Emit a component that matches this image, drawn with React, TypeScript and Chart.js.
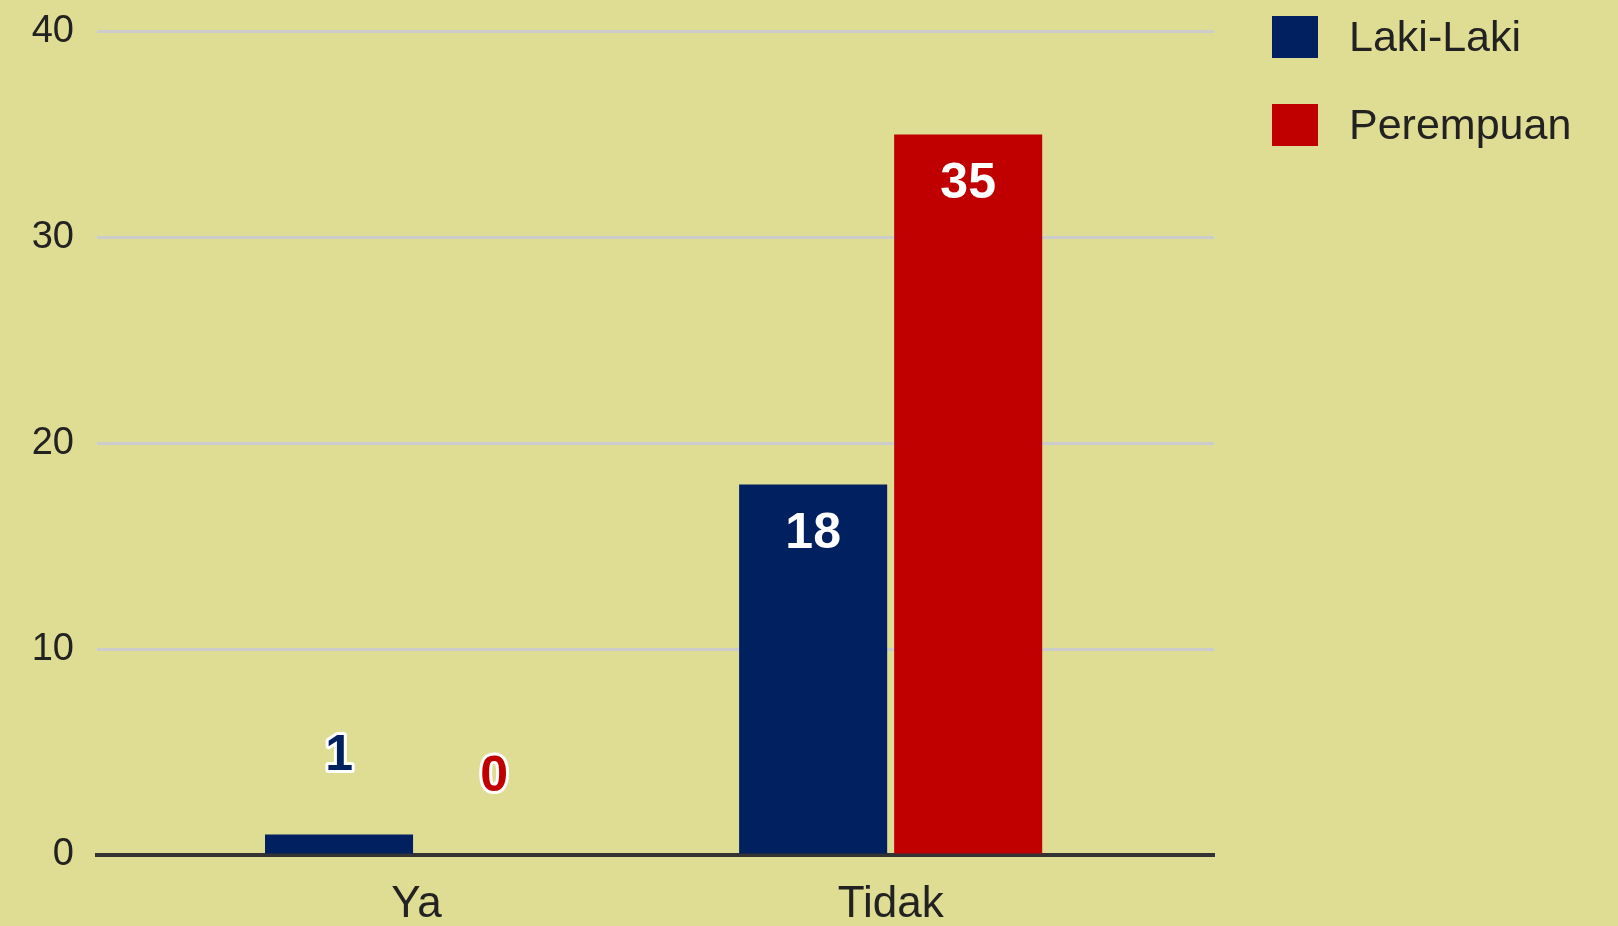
import React, { useEffect, useRef } from "react";
import { Chart, registerables } from "chart.js";

Chart.register(...registerables);

const categories = ["Ya", "Tidak"];
const seriesNames = ["Laki-Laki", "Perempuan"];
const lakiLaki = [1, 18];
const perempuan = [0, 35];
const seriesColors = ["#002060", "#C00000"];
const yMin = 0;
const yMax = 40;
const yStep = 10;

const BG = "#dfdc93";
const FONT = "'Liberation Sans', Arial, sans-serif";
const TEXT = "#222222";

const valueLabelPlugin = {
  id: "valueLabels",
  afterDatasetsDraw(chart: any) {
    const ctx = chart.ctx;
    ctx.save();
    ctx.font = `bold 50px ${FONT}`;
    ctx.textAlign = "center";
    ctx.textBaseline = "middle";
    chart.data.datasets.forEach((ds: any, i: number) => {
      const meta = chart.getDatasetMeta(i);
      meta.data.forEach((bar: any, j: number) => {
        const v = ds.data[j].y;
        const { x, y, base } = bar.getProps(["x", "y", "base"], true);
        const h = base - y;
        const txt = String(v);
        if (h > 120) {
          ctx.fillStyle = "#ffffff";
          ctx.fillText(txt, x, y + 50);
        } else {
          const ty = y - 78;
          ctx.lineJoin = "round";
          ctx.lineWidth = 6;
          ctx.strokeStyle = "#ffffff";
          ctx.strokeText(txt, x, ty);
          ctx.fillStyle = ds.backgroundColor;
          ctx.fillText(txt, x, ty);
        }
      });
    });
    ctx.restore();
  },
};

const legendPlugin = {
  id: "sideLegend",
  afterDraw(chart: any) {
    const ctx = chart.ctx;
    const left = chart.chartArea.right + 58;
    ctx.save();
    ctx.font = `43px ${FONT}`;
    ctx.textAlign = "left";
    ctx.textBaseline = "alphabetic";
    chart.data.datasets.forEach((ds: any, i: number) => {
      const top = 16 + i * 88;
      ctx.fillStyle = ds.backgroundColor;
      ctx.fillRect(left, top, 46, 42);
      ctx.fillStyle = TEXT;
      ctx.fillText(ds.label, left + 77, top + 35);
    });
    ctx.restore();
  },
};

export default function App() {
  const ref = useRef<HTMLCanvasElement | null>(null);

  useEffect(() => {
    document.body.style.margin = "0";
    document.body.style.background = BG;
    const canvas = ref.current;
    if (!canvas) return;
    Chart.defaults.font.family = FONT;
    const seriesData = [lakiLaki, perempuan];
    const chart = new Chart(canvas, {
      type: "bar",
      data: {
        datasets: seriesNames.map((name, s) => ({
          label: name,
          data: categories.map((_, i) => ({ x: i, y: seriesData[s][i] })),
          backgroundColor: seriesColors[s],
          borderWidth: 0,
          categoryPercentage: 0.654,
          barPercentage: 0.955,
        })),
      },
      options: {
        responsive: false,
        animation: false,
        layout: { padding: { top: 31.5, right: 404, bottom: 0, left: 0 } },
        plugins: {
          legend: { display: false },
          tooltip: { enabled: false },
        },
        scales: {
          x: {
            type: "linear",
            min: -0.674,
            max: 1.682,
            offset: false,
            bounds: "data",
            z: 1,
            grid: { display: false, drawTicks: false, offset: false },
            border: { display: true, color: "#333333", width: 4 },
            afterBuildTicks: (s: any) => {
              s.ticks = categories.map((_, i) => ({ value: i }));
            },
            afterFit: (s: any) => {
              s.height = 71;
              s.paddingLeft = 0;
              s.paddingRight = 0;
            },
            ticks: {
              callback: (v: any) => categories[v as number] ?? "",
              font: { size: 44 },
              color: TEXT,
              padding: 23,
              maxRotation: 0,
              autoSkip: false,
            },
          },
          y: {
            min: yMin,
            max: yMax,
            afterFit: (s: any) => {
              s.width = 97;
              s.paddingTop = 0;
              s.paddingBottom = 0;
            },
            ticks: {
              stepSize: yStep,
              font: { size: 38 },
              color: TEXT,
              padding: 23,
            },
            grid: { color: "#cccccc", lineWidth: 3, drawTicks: false },
            border: { display: false },
          },
        },
      } as any,
      plugins: [valueLabelPlugin, legendPlugin],
    });
    return () => chart.destroy();
  }, []);

  return (
    <div style={{ width: 1618, height: 926, background: BG }}>
      <canvas ref={ref} width={1618} height={926} style={{ display: "block", width: 1618, height: 926 }} />
    </div>
  );
}
